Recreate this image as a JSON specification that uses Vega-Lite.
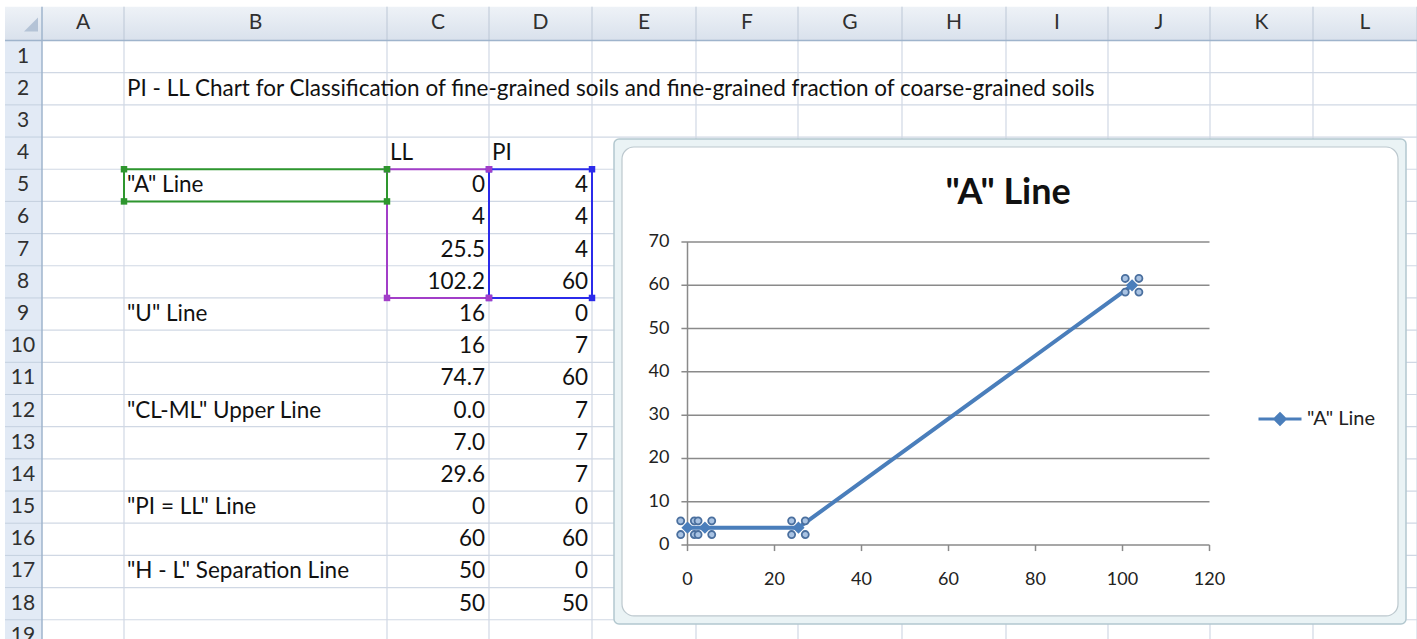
{
  "$schema": "https://vega.github.io/schema/vega-lite/v6.json",
  "width": 1417,
  "height": 639,
  "padding": 0,
  "autosize": {"type": "none"},
  "background": "#ffffff",
  "config": {
    "view": {"stroke": null},
    "axis": {"disable": true},
    "font": "Lato",
    "text": {"font": "Lato"}
  },
  "datasets": {
    "columns": [
      {"col": "A", "left": 42, "right": 124},
      {"col": "B", "left": 124, "right": 387},
      {"col": "C", "left": 387, "right": 489},
      {"col": "D", "left": 489, "right": 592},
      {"col": "E", "left": 592, "right": 696},
      {"col": "F", "left": 696, "right": 798},
      {"col": "G", "left": 798, "right": 902},
      {"col": "H", "left": 902, "right": 1006},
      {"col": "I", "left": 1006, "right": 1108},
      {"col": "J", "left": 1108, "right": 1210},
      {"col": "K", "left": 1210, "right": 1313},
      {"col": "L", "left": 1313, "right": 1417}
    ],
    "rows": [
      {"row": 1}, {"row": 2}, {"row": 3}, {"row": 4}, {"row": 5}, {"row": 6}, {"row": 7},
      {"row": 8}, {"row": 9}, {"row": 10}, {"row": 11}, {"row": 12}, {"row": 13},
      {"row": 14}, {"row": 15}, {"row": 16}, {"row": 17}, {"row": 18}, {"row": 19}
    ],
    "notes": [
      {"row": 2, "col": "B", "text": "PI - LL Chart for Classification of fine-grained soils and fine-grained fraction of coarse-grained soils"},
      {"row": 4, "col": "C", "text": "LL"},
      {"row": 4, "col": "D", "text": "PI"}
    ],
    "sheet": [
      {"row": 5, "name": "\"A\" Line", "line": "\"A\" Line", "LL": 0, "PI": 4},
      {"row": 6, "name": null, "line": "\"A\" Line", "LL": 4, "PI": 4},
      {"row": 7, "name": null, "line": "\"A\" Line", "LL": 25.5, "PI": 4},
      {"row": 8, "name": null, "line": "\"A\" Line", "LL": 102.2, "PI": 60},
      {"row": 9, "name": "\"U\" Line", "line": "\"U\" Line", "LL": 16, "PI": 0},
      {"row": 10, "name": null, "line": "\"U\" Line", "LL": 16, "PI": 7},
      {"row": 11, "name": null, "line": "\"U\" Line", "LL": 74.7, "PI": 60},
      {"row": 12, "name": "\"CL-ML\" Upper Line", "line": "\"CL-ML\" Upper Line", "LL": 0, "PI": 7},
      {"row": 13, "name": null, "line": "\"CL-ML\" Upper Line", "LL": 7, "PI": 7},
      {"row": 14, "name": null, "line": "\"CL-ML\" Upper Line", "LL": 29.6, "PI": 7},
      {"row": 15, "name": "\"PI = LL\" Line", "line": "\"PI = LL\" Line", "LL": 0, "PI": 0},
      {"row": 16, "name": null, "line": "\"PI = LL\" Line", "LL": 60, "PI": 60},
      {"row": 17, "name": "\"H - L\" Separation Line", "line": "\"H - L\" Separation Line", "LL": 50, "PI": 0},
      {"row": 18, "name": null, "line": "\"H - L\" Separation Line", "LL": 50, "PI": 50}
    ],
    "ranges": [
      {"range": "C5:C8", "left": 387, "right": 489, "top": 5, "bottom": 9},
      {"range": "D5:D8", "left": 489, "right": 592, "top": 5, "bottom": 9},
      {"range": "B5", "left": 124, "right": 387, "top": 5, "bottom": 6}
    ],
    "ticksX": [{"v": 0}, {"v": 20}, {"v": 40}, {"v": 60}, {"v": 80}, {"v": 100}, {"v": 120}],
    "ticksY": [{"v": 0}, {"v": 10}, {"v": 20}, {"v": 30}, {"v": 40}, {"v": 50}, {"v": 60}, {"v": 70}]
  },
  "layer": [
    {
      "layer": [
        {
          "data": {"values": [{}]},
          "mark": {"type": "rect", "color": {"gradient": "linear", "x1": 0, "y1": 0, "x2": 0, "y2": 1, "stops": [{"offset": 0, "color": "#eef2f7"}, {"offset": 1, "color": "#d9e1ec"}]}},
          "encoding": {
            "x": {"datum": 5, "type": "quantitative", "scale": {"domain": [0, 1417], "nice": false, "zero": false}},
            "x2": {"datum": 1417},
            "y": {"datum": -0.05, "type": "quantitative", "scale": {"domain": [-0.2586, 19.598], "reverse": true, "nice": false, "zero": false}},
            "y2": {"datum": 1}
          }
        },
        {
          "data": {"values": [{}]},
          "mark": {"type": "rect", "color": "#e2eaf5"},
          "encoding": {
            "x": {"datum": 5, "type": "quantitative", "scale": {"domain": [0, 1417], "nice": false, "zero": false}},
            "x2": {"datum": 42},
            "y": {"datum": 1, "type": "quantitative", "scale": {"domain": [-0.2586, 19.598], "reverse": true, "nice": false, "zero": false}},
            "y2": {"datum": 19.598}
          }
        },
        {
          "data": {"values": [{}]},
          "mark": {"type": "point", "shape": "M1,-1L1,1L-1,1Z", "filled": true, "color": "#b4c3d6", "size": 196, "opacity": 1},
          "encoding": {
            "x": {"datum": 31, "type": "quantitative", "scale": {"domain": [0, 1417], "nice": false, "zero": false}},
            "y": {"datum": 0.5, "type": "quantitative", "scale": {"domain": [-0.2586, 19.598], "reverse": true, "nice": false, "zero": false}}
          }
        },
        {
          "data": {"name": "rows"},
          "transform": [{"filter": "datum.row > 1"}],
          "mark": {"type": "rule", "color": "#d0d8e4", "strokeWidth": 1.2},
          "encoding": {
            "x": {"datum": 42, "type": "quantitative", "scale": {"domain": [0, 1417], "nice": false, "zero": false}},
            "x2": {"datum": 1417},
            "y": {"field": "row", "type": "quantitative", "scale": {"domain": [-0.2586, 19.598], "reverse": true, "nice": false, "zero": false}}
          }
        },
        {
          "data": {"name": "rows"},
          "transform": [{"filter": "datum.row > 1"}],
          "mark": {"type": "rule", "color": "#c4d0df", "strokeWidth": 1},
          "encoding": {
            "x": {"datum": 5, "type": "quantitative", "scale": {"domain": [0, 1417], "nice": false, "zero": false}},
            "x2": {"datum": 42},
            "y": {"field": "row", "type": "quantitative", "scale": {"domain": [-0.2586, 19.598], "reverse": true, "nice": false, "zero": false}}
          }
        },
        {
          "data": {"name": "columns"},
          "mark": {"type": "rule", "color": "#d0d8e4", "strokeWidth": 1.2},
          "encoding": {
            "x": {"field": "right", "type": "quantitative", "scale": {"domain": [0, 1417], "nice": false, "zero": false}},
            "y": {"datum": 1, "type": "quantitative", "scale": {"domain": [-0.2586, 19.598], "reverse": true, "nice": false, "zero": false}},
            "y2": {"datum": 19.598}
          }
        },
        {
          "data": {"name": "columns"},
          "mark": {"type": "rule", "color": "#bcc7d6", "strokeWidth": 1},
          "encoding": {
            "x": {"field": "right", "type": "quantitative", "scale": {"domain": [0, 1417], "nice": false, "zero": false}},
            "y": {"datum": -0.05, "type": "quantitative", "scale": {"domain": [-0.2586, 19.598], "reverse": true, "nice": false, "zero": false}},
            "y2": {"datum": 1}
          }
        },
        {
          "data": {"values": [{}]},
          "mark": {"type": "rule", "color": "#9fb4cc", "strokeWidth": 1.5},
          "encoding": {
            "x": {"datum": 5, "type": "quantitative", "scale": {"domain": [0, 1417], "nice": false, "zero": false}},
            "x2": {"datum": 1417},
            "y": {"datum": 1, "type": "quantitative", "scale": {"domain": [-0.2586, 19.598], "reverse": true, "nice": false, "zero": false}}
          }
        },
        {
          "data": {"values": [{}]},
          "mark": {"type": "rule", "color": "#9fb4cc", "strokeWidth": 1.5},
          "encoding": {
            "x": {"datum": 42, "type": "quantitative", "scale": {"domain": [0, 1417], "nice": false, "zero": false}},
            "y": {"datum": -0.05, "type": "quantitative", "scale": {"domain": [-0.2586, 19.598], "reverse": true, "nice": false, "zero": false}},
            "y2": {"datum": 19.598}
          }
        },
        {
          "data": {"name": "columns"},
          "transform": [{"calculate": "(datum.left + datum.right) / 2", "as": "centre"}],
          "mark": {"type": "text", "fontSize": 21, "color": "#303030", "baseline": "middle", "align": "center"},
          "encoding": {
            "x": {"field": "centre", "type": "quantitative", "scale": {"domain": [0, 1417], "nice": false, "zero": false}},
            "y": {"datum": 0.47, "type": "quantitative", "scale": {"domain": [-0.2586, 19.598], "reverse": true, "nice": false, "zero": false}},
            "text": {"field": "col"}
          }
        },
        {
          "data": {"name": "rows"},
          "transform": [{"calculate": "datum.row + 0.5", "as": "mid"}],
          "mark": {"type": "text", "fontSize": 21, "color": "#303030", "baseline": "middle", "align": "center"},
          "encoding": {
            "x": {"datum": 23, "type": "quantitative", "scale": {"domain": [0, 1417], "nice": false, "zero": false}},
            "y": {"field": "mid", "type": "quantitative", "scale": {"domain": [-0.2586, 19.598], "reverse": true, "nice": false, "zero": false}},
            "text": {"field": "row"}
          }
        },
        {
          "data": {"name": "notes"},
          "transform": [
            {"lookup": "col", "from": {"data": {"name": "columns"}, "key": "col", "fields": ["left"]}},
            {"calculate": "datum.row + 0.5", "as": "mid"}
          ],
          "mark": {"type": "text", "fontSize": 22.5, "color": "#111111", "baseline": "middle", "align": "left", "dx": 3},
          "encoding": {
            "x": {"field": "left", "type": "quantitative", "scale": {"domain": [0, 1417], "nice": false, "zero": false}},
            "y": {"field": "mid", "type": "quantitative", "scale": {"domain": [-0.2586, 19.598], "reverse": true, "nice": false, "zero": false}},
            "text": {"field": "text"}
          }
        },
        {
          "data": {"name": "sheet"},
          "transform": [{"filter": "datum.name != null"}, {"calculate": "datum.row + 0.5", "as": "mid"}],
          "mark": {"type": "text", "fontSize": 22.5, "color": "#111111", "baseline": "middle", "align": "left", "dx": 3},
          "encoding": {
            "x": {"datum": 124, "type": "quantitative", "scale": {"domain": [0, 1417], "nice": false, "zero": false}},
            "y": {"field": "mid", "type": "quantitative", "scale": {"domain": [-0.2586, 19.598], "reverse": true, "nice": false, "zero": false}},
            "text": {"field": "name"}
          }
        },
        {
          "data": {"name": "sheet"},
          "transform": [{"calculate": "datum.row + 0.5", "as": "mid"}],
          "mark": {"type": "text", "fontSize": 22.5, "color": "#111111", "baseline": "middle", "align": "right", "dx": -4},
          "encoding": {
            "x": {"datum": 489, "type": "quantitative", "scale": {"domain": [0, 1417], "nice": false, "zero": false}},
            "y": {"field": "mid", "type": "quantitative", "scale": {"domain": [-0.2586, 19.598], "reverse": true, "nice": false, "zero": false}},
            "text": {
              "condition": {"test": "datum.line === '\"CL-ML\" Upper Line'", "field": "LL", "type": "quantitative", "format": ".1f"},
              "field": "LL", "type": "quantitative", "format": "~g"
            }
          }
        },
        {
          "data": {"name": "sheet"},
          "transform": [{"calculate": "datum.row + 0.5", "as": "mid"}],
          "mark": {"type": "text", "fontSize": 22.5, "color": "#111111", "baseline": "middle", "align": "right", "dx": -4},
          "encoding": {
            "x": {"datum": 592, "type": "quantitative", "scale": {"domain": [0, 1417], "nice": false, "zero": false}},
            "y": {"field": "mid", "type": "quantitative", "scale": {"domain": [-0.2586, 19.598], "reverse": true, "nice": false, "zero": false}},
            "text": {"field": "PI", "type": "quantitative", "format": "~g"}
          }
        },
        {
          "data": {"name": "ranges"},
          "mark": {"type": "rect", "fill": null, "strokeWidth": 2},
          "encoding": {
            "x": {"field": "left", "type": "quantitative", "scale": {"domain": [0, 1417], "nice": false, "zero": false}},
            "x2": {"field": "right"},
            "y": {"field": "top", "type": "quantitative", "scale": {"domain": [-0.2586, 19.598], "reverse": true, "nice": false, "zero": false}},
            "y2": {"field": "bottom"},
            "stroke": {"field": "range", "type": "nominal", "scale": {"domain": ["C5:C8", "D5:D8", "B5"], "range": ["#a23ec8", "#2b2bea", "#2e962e"]}, "legend": null}
          }
        },
        {
          "data": {"name": "ranges"},
          "mark": {"type": "square", "size": 42, "opacity": 1},
          "encoding": {
            "x": {"field": "left", "type": "quantitative", "scale": {"domain": [0, 1417], "nice": false, "zero": false}},
            "y": {"field": "top", "type": "quantitative", "scale": {"domain": [-0.2586, 19.598], "reverse": true, "nice": false, "zero": false}},
            "color": {"field": "range", "type": "nominal", "scale": {"domain": ["C5:C8", "D5:D8", "B5"], "range": ["#a23ec8", "#2b2bea", "#2e962e"]}, "legend": null}
          }
        },
        {
          "data": {"name": "ranges"},
          "mark": {"type": "square", "size": 42, "opacity": 1},
          "encoding": {
            "x": {"field": "right", "type": "quantitative", "scale": {"domain": [0, 1417], "nice": false, "zero": false}},
            "y": {"field": "top", "type": "quantitative", "scale": {"domain": [-0.2586, 19.598], "reverse": true, "nice": false, "zero": false}},
            "color": {"field": "range", "type": "nominal", "scale": {"domain": ["C5:C8", "D5:D8", "B5"], "range": ["#a23ec8", "#2b2bea", "#2e962e"]}, "legend": null}
          }
        },
        {
          "data": {"name": "ranges"},
          "mark": {"type": "square", "size": 42, "opacity": 1},
          "encoding": {
            "x": {"field": "left", "type": "quantitative", "scale": {"domain": [0, 1417], "nice": false, "zero": false}},
            "y": {"field": "bottom", "type": "quantitative", "scale": {"domain": [-0.2586, 19.598], "reverse": true, "nice": false, "zero": false}},
            "color": {"field": "range", "type": "nominal", "scale": {"domain": ["C5:C8", "D5:D8", "B5"], "range": ["#a23ec8", "#2b2bea", "#2e962e"]}, "legend": null}
          }
        },
        {
          "data": {"name": "ranges"},
          "mark": {"type": "square", "size": 42, "opacity": 1},
          "encoding": {
            "x": {"field": "right", "type": "quantitative", "scale": {"domain": [0, 1417], "nice": false, "zero": false}},
            "y": {"field": "bottom", "type": "quantitative", "scale": {"domain": [-0.2586, 19.598], "reverse": true, "nice": false, "zero": false}},
            "color": {"field": "range", "type": "nominal", "scale": {"domain": ["C5:C8", "D5:D8", "B5"], "range": ["#a23ec8", "#2b2bea", "#2e962e"]}, "legend": null}
          }
        },
        {
          "data": {"values": [{}]},
          "mark": {"type": "rect", "fill": "#eaf3f5", "stroke": "#b3c8cf", "strokeWidth": 1.5, "cornerRadius": 5},
          "encoding": {
            "x": {"datum": 614, "type": "quantitative", "scale": {"domain": [0, 1417], "nice": false, "zero": false}},
            "x2": {"datum": 1406},
            "y": {"datum": 4.06, "type": "quantitative", "scale": {"domain": [-0.2586, 19.598], "reverse": true, "nice": false, "zero": false}},
            "y2": {"datum": 19.13}
          }
        },
        {
          "data": {"values": [{}]},
          "mark": {"type": "rect", "fill": "#ffffff", "stroke": "#bcc8ce", "strokeWidth": 1.2, "cornerRadius": 12},
          "encoding": {
            "x": {"datum": 622, "type": "quantitative", "scale": {"domain": [0, 1417], "nice": false, "zero": false}},
            "x2": {"datum": 1398},
            "y": {"datum": 4.31, "type": "quantitative", "scale": {"domain": [-0.2586, 19.598], "reverse": true, "nice": false, "zero": false}},
            "y2": {"datum": 18.88}
          }
        }
      ],
      "resolve": {"scale": {"color": "shared", "stroke": "shared"}}
    },
    {
      "layer": [
        {
          "data": {"name": "ticksY"},
          "mark": {"type": "rule", "color": "#8a8a8a", "strokeWidth": 1.5},
          "encoding": {
            "x": {"datum": -1.4, "type": "quantitative", "scale": {"domain": [-158.05, 167.7], "nice": false, "zero": false}},
            "x2": {"datum": 120},
            "y": {"field": "v", "type": "quantitative", "scale": {"domain": [-21.716, 125.91], "nice": false, "zero": false}}
          }
        },
        {
          "data": {"values": [{}]},
          "mark": {"type": "rule", "color": "#8a8a8a", "strokeWidth": 1.5},
          "encoding": {
            "x": {"datum": 0, "type": "quantitative", "scale": {"domain": [-158.05, 167.7], "nice": false, "zero": false}},
            "y": {"datum": 0, "type": "quantitative", "scale": {"domain": [-21.716, 125.91], "nice": false, "zero": false}},
            "y2": {"datum": 70}
          }
        },
        {
          "data": {"name": "ticksX"},
          "mark": {"type": "rule", "color": "#8a8a8a", "strokeWidth": 1.5},
          "encoding": {
            "x": {"field": "v", "type": "quantitative", "scale": {"domain": [-158.05, 167.7], "nice": false, "zero": false}},
            "y": {"datum": 0, "type": "quantitative", "scale": {"domain": [-21.716, 125.91], "nice": false, "zero": false}},
            "y2": {"datum": -1.4}
          }
        },
        {
          "data": {"name": "ticksY"},
          "mark": {"type": "text", "fontSize": 18, "color": "#222222", "align": "right", "baseline": "middle", "dx": -18},
          "encoding": {
            "x": {"datum": 0, "type": "quantitative", "scale": {"domain": [-158.05, 167.7], "nice": false, "zero": false}},
            "y": {"field": "v", "type": "quantitative", "scale": {"domain": [-21.716, 125.91], "nice": false, "zero": false}},
            "text": {"field": "v", "type": "quantitative"}
          }
        },
        {
          "data": {"name": "ticksX"},
          "mark": {"type": "text", "fontSize": 18, "color": "#222222", "align": "center", "baseline": "middle", "dy": 35},
          "encoding": {
            "x": {"field": "v", "type": "quantitative", "scale": {"domain": [-158.05, 167.7], "nice": false, "zero": false}},
            "y": {"datum": 0, "type": "quantitative", "scale": {"domain": [-21.716, 125.91], "nice": false, "zero": false}},
            "text": {"field": "v", "type": "quantitative"}
          }
        },
        {
          "data": {"values": [{"title": "\"A\" Line"}]},
          "mark": {"type": "text", "fontSize": 36, "fontWeight": "bold", "color": "#111111", "align": "center", "baseline": "middle"},
          "encoding": {
            "x": {"datum": 73.7, "type": "quantitative", "scale": {"domain": [-158.05, 167.7], "nice": false, "zero": false}},
            "y": {"datum": 81.3, "type": "quantitative", "scale": {"domain": [-21.716, 125.91], "nice": false, "zero": false}},
            "text": {"field": "title"}
          }
        },
        {
          "data": {"name": "sheet"},
          "transform": [{"filter": "datum.line === '\"A\" Line'"}],
          "mark": {"type": "line", "strokeWidth": 4},
          "encoding": {
            "x": {"field": "LL", "type": "quantitative", "scale": {"domain": [-158.05, 167.7], "nice": false, "zero": false}},
            "y": {"field": "PI", "type": "quantitative", "scale": {"domain": [-21.716, 125.91], "nice": false, "zero": false}},
            "order": {"field": "row"},
            "color": {
              "field": "line", "type": "nominal",
              "scale": {"range": ["#4a7ebb"]},
              "legend": {
                "orient": "none", "legendX": 1257, "legendY": 396, "title": null, "padding": 0,
                "symbolType": "M-1,0L1,0M0,-0.24L0.24,0L0,0.24L-0.24,0Z",
                "symbolSize": 1849, "symbolStrokeWidth": 3,
                "labelFont": "Lato", "labelFontSize": 20, "labelColor": "#222222", "labelOffset": 4,
                "encode": {"symbols": {"update": {"fill": {"value": "#4a7ebb"}, "stroke": {"value": "#4a7ebb"}, "opacity": {"value": 1}}}}
              }
            }
          }
        },
        {
          "data": {"name": "sheet"},
          "transform": [{"filter": "datum.line === '\"A\" Line'"}],
          "mark": {
            "type": "point", "filled": true, "fill": "#a9c3e3", "stroke": "#4a6f9e", "strokeWidth": 1.8, "opacity": 1, "size": 484,
            "shape": "M-0.3,-0.62A0.32,0.32,0,1,1,-0.94,-0.62A0.32,0.32,0,1,1,-0.3,-0.62ZM0.94,-0.62A0.32,0.32,0,1,1,0.3,-0.62A0.32,0.32,0,1,1,0.94,-0.62ZM-0.3,0.62A0.32,0.32,0,1,1,-0.94,0.62A0.32,0.32,0,1,1,-0.3,0.62ZM0.94,0.62A0.32,0.32,0,1,1,0.3,0.62A0.32,0.32,0,1,1,0.94,0.62Z"
          },
          "encoding": {
            "x": {"field": "LL", "type": "quantitative", "scale": {"domain": [-158.05, 167.7], "nice": false, "zero": false}},
            "y": {"field": "PI", "type": "quantitative", "scale": {"domain": [-21.716, 125.91], "nice": false, "zero": false}}
          }
        },
        {
          "data": {"name": "sheet"},
          "transform": [{"filter": "datum.line === '\"A\" Line'"}],
          "mark": {"type": "point", "shape": "diamond", "filled": true, "color": "#4a7ebb", "size": 150, "opacity": 1},
          "encoding": {
            "x": {"field": "LL", "type": "quantitative", "scale": {"domain": [-158.05, 167.7], "nice": false, "zero": false}},
            "y": {"field": "PI", "type": "quantitative", "scale": {"domain": [-21.716, 125.91], "nice": false, "zero": false}}
          }
        }
      ]
    }
  ],
  "resolve": {"scale": {"x": "independent", "y": "independent", "color": "independent", "stroke": "independent"}}
}
